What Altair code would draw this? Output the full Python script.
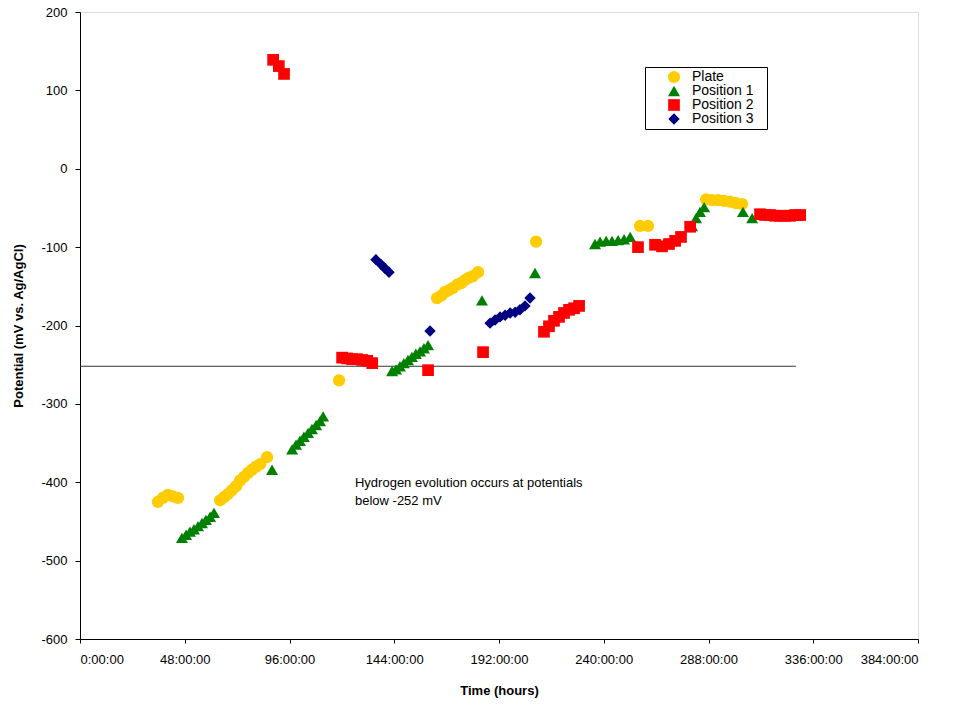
import altair as alt
import pandas as pd

# Plate
plate_h = [35.7, 38.0, 40.3, 42.6, 44.9,
           64.2, 66.0, 67.8, 69.7, 71.5, 73.3, 75.2, 77.0, 78.8, 80.7, 82.5, 85.7,
           118.7,
           163.6, 165.5, 167.3, 169.1, 170.9, 172.8, 174.6, 176.4, 178.3, 180.1, 182.4,
           209.0, 256.6, 260.3,
           286.9, 289.6, 292.4, 295.1, 297.9, 300.6, 303.4]
plate_v = [-425, -420, -416, -418, -420,
           -423, -419, -415, -410, -405, -398, -393, -388, -384, -380, -377, -368,
           -270,
           -165, -162, -157, -155, -152, -148, -146, -142, -139, -137, -132,
           -93, -73, -73,
           -39, -40, -40, -41, -42, -44, -45]

# Position 1
p1_h = [46.7, 48.6, 50.4, 52.2, 54.1, 55.9, 57.7, 59.6, 61.4,
        88.0,
        97.2, 99.0, 100.8, 102.6, 104.5, 106.3, 108.2, 110.0, 111.4,
        143.0, 144.8, 146.6, 148.4, 150.3, 152.1, 153.9, 155.8, 157.6, 159.5,
        184.2, 208.5,
        236.0, 238.3, 241.1, 243.8, 246.6, 249.3, 252.1,
        280.5, 282.3, 284.1, 286.0,
        303.8, 308.0, 329.1]
p1_v = [-471, -467, -463, -460, -456, -452, -448, -444, -439,
        -384,
        -358, -352, -347, -342, -337, -332, -327, -322, -316,
        -258, -256, -252, -248, -244, -240, -236, -233, -229, -225,
        -168, -133,
        -96, -93, -92, -92, -91, -90, -87,
        -73, -63, -55, -49,
        -55, -63, -60]

# Position 2
p2_h = [88.5, 91.1, 93.5,
        120.1, 122.4, 124.7, 127.0, 129.3, 131.6, 133.9,
        159.5, 184.7,
        212.6, 214.9, 217.2, 219.5, 221.8, 224.1, 226.4, 228.7,
        255.7, 263.5, 266.7, 269.9, 272.7, 275.4, 279.6,
        311.6, 313.9, 316.2, 318.5, 320.8, 323.1, 325.4, 327.7, 330.0]
p2_v = [139, 131, 121,
        -241, -242, -243, -243, -244, -245, -248,
        -257, -234,
        -208, -201, -194, -189, -184, -180, -178, -175,
        -100, -97, -99, -96, -92, -87, -74,
        -58, -59, -59, -60, -60, -60, -60, -59, -59]

# Position 3
p3_h = [135.6, 137.9, 139.7, 141.6,
        160.4,
        187.9, 190.2, 192.5, 194.8, 197.1, 199.4, 201.6, 203.9, 206.2]
p3_v = [-116, -122, -127, -132,
        -207,
        -197, -193, -189, -187, -184, -183, -180, -175, -165]

series = ["Plate", "Position 1", "Position 2", "Position 3"]
colors = ["#FFCC00", "#008000", "#FF0000", "#000080"]
shapes = ["circle", "triangle-up", "square", "diamond"]
sizes = [150, 130, 150, 80]

x_ticks = [0, 48, 96, 144, 192, 240, 288, 336, 384]
y_ticks = [-600, -500, -400, -300, -200, -100, 0, 100, 200]

threshold = -252
threshold_end = 328
note_lines = ["Hydrogen evolution occurs at potentials", "below -252 mV"]

rows = []
for name, hs, vs in zip(series, [plate_h, p1_h, p2_h, p3_h], [plate_v, p1_v, p2_v, p3_v]):
    for h, v in zip(hs, vs):
        rows.append({"hours": h, "potential": v, "series": name})
df = pd.DataFrame(rows)

FONT = "Liberation Sans"

x_scale = alt.Scale(domain=[0, 384], nice=False, zero=False)
y_scale = alt.Scale(domain=[-600, 200], nice=False, zero=False)

x_axis = alt.Axis(values=x_ticks, labelExpr="datum.value + ':00:00'", title="Time (hours)",
                  grid=False, labelFont=FONT, labelFontSize=13, labelColor="black",
                  titleFont=FONT, titleFontSize=13, titleFontWeight="bold", titleColor="black",
                  domainColor="black", tickColor="black", tickSize=4, labelPadding=10,
                  titlePadding=18)
y_axis = alt.Axis(values=y_ticks, labelExpr="'' + datum.value", title="Potential (mV vs. Ag/AgCl)",
                  grid=False, labelFont=FONT, labelFontSize=13, labelColor="black",
                  titleFont=FONT, titleFontSize=13, titleFontWeight="bold", titleColor="black",
                  domainColor="black", tickColor="black", tickSize=5, labelPadding=8,
                  titlePadding=15)

points = alt.Chart(df).mark_point(filled=True, opacity=1, strokeWidth=0).encode(
    x=alt.X("hours:Q", scale=x_scale, axis=x_axis),
    y=alt.Y("potential:Q", scale=y_scale, axis=y_axis),
    color=alt.Color("series:N", scale=alt.Scale(domain=series, range=colors),
                    legend=alt.Legend(title=".", titleOrient="right", titleColor="white",
                                      titleFontSize=8, titlePadding=8,
                                      orient="none", legendX=565, legendY=55,
                                      strokeColor="black", fillColor="white", padding=3,
                                      labelFont=FONT, labelFontSize=14, labelColor="black",
                                      rowPadding=0, symbolSize=90, labelOffset=11,
                                      symbolOffset=19)),
    shape=alt.Shape("series:N", scale=alt.Scale(domain=series, range=shapes)),
    size=alt.Size("series:N", scale=alt.Scale(domain=series, range=sizes), legend=None),
)

rule_df = pd.DataFrame({"x": [0], "x2": [threshold_end], "y": [threshold]})
rule = alt.Chart(rule_df).mark_rule(color="#333333", strokeWidth=1.2).encode(
    x="x:Q", x2="x2:Q", y="y:Q")

note_df = pd.DataFrame({"x": [126], "y": [-412], "text": [note_lines]})
note = alt.Chart(note_df).mark_text(align="left", baseline="middle", font=FONT, fontSize=13,
                                    color="black", lineHeight=18, dy=-9).encode(
    x="x:Q", y="y:Q", text="text")

chart = alt.layer(rule, points, note).properties(
    width=838, height=627,
    padding={"left": 80, "top": 12, "right": 37, "bottom": 67},
    autosize=alt.AutoSizeParams(type="none"),
).configure_view(stroke="#808080", strokeWidth=1).configure(background="white")

chart.save("out.html", embed_options={"renderer": "svg", "actions": False})
